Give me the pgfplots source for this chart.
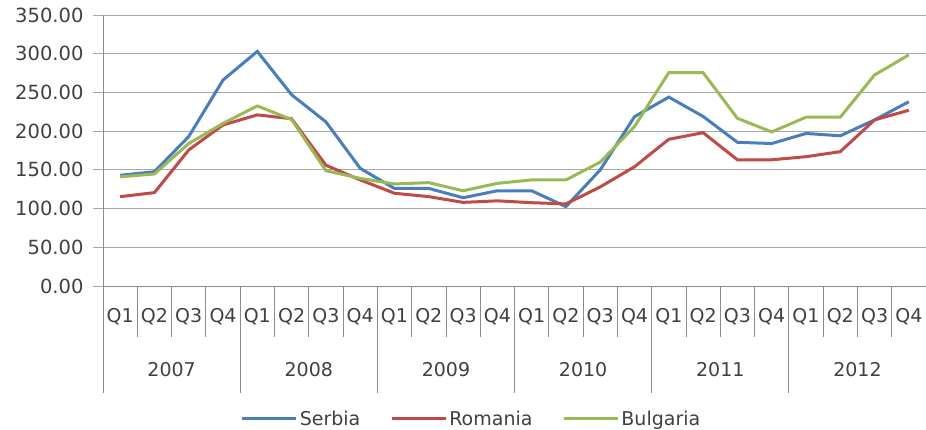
\documentclass[border=0pt]{standalone}
\usepackage{fontspec}
\setmainfont{DejaVu Sans}
\usepackage{pgfplots}
\pgfplotsset{compat=1.18}
\definecolor{cSer}{HTML}{4A7EBB}
\definecolor{cRom}{HTML}{BE4B48}
\definecolor{cBul}{HTML}{98B954}
\definecolor{gridgray}{HTML}{A8A8A8}
\definecolor{axgray}{HTML}{8C8C8C}
\definecolor{txt}{HTML}{404040}
\begin{document}
\begin{tikzpicture}
\path[use as bounding box] (-103pt,-143pt) rectangle (823pt,286pt);
% main axis with data
\begin{axis}[
  at={(0pt,0pt)}, anchor=south west,
  scale only axis, width=823pt, height=271pt,
  xmin=-0.5, xmax=23.5, ymin=0, ymax=350,
  axis x line*=bottom, axis y line*=left,
  axis line style={draw=axgray, line width=0.8pt, -},
  ymajorgrids, grid style={draw=gridgray, line width=0.9pt},
  ytick={0,50,100,150,200,250,300,350},
  yticklabels={0.00,50.00,100.00,150.00,200.00,250.00,300.00,350.00},
  xtick=\empty,
  tick align=outside, major tick length=10pt,
  ytick style={draw=gridgray, line width=0.9pt},
  yticklabel style={font=\fontsize{19.5}{22}\selectfont, text=txt, xshift=-6pt},
  legend style={at={(0.4478,-0.49)}, anchor=center, draw=none, fill=none,
    legend columns=3, font=\fontsize{19}{22}\selectfont, text=txt,
    /tikz/every even column/.append style={column sep=28pt},
    inner sep=0pt},
  legend image code/.code={\draw[#1] (0pt,0pt) -- (54pt,0pt);},
]
\addplot[cSer, line width=3pt] coordinates {
(0,143) (1,147.6) (2,193) (3,266) (4,303) (5,247) (6,212) (7,152)
(8,126) (9,126) (10,114) (11,123) (12,123) (13,102.5) (14,150) (15,218.7)
(16,244) (17,219) (18,185.6) (19,184) (20,197) (21,194) (22,214.5) (23,238)};
\addlegendentry{Serbia}
\addplot[cRom, line width=3pt] coordinates {
(0,115.4) (1,120.6) (2,175.7) (3,208) (4,221) (5,216) (6,156) (7,137)
(8,119.8) (9,115.4) (10,108) (11,110) (12,107.6) (13,106) (14,128) (15,154)
(16,189.5) (17,198) (18,163) (19,163) (20,167) (21,173.5) (22,214.5) (23,227)};
\addlegendentry{Romania}
\addplot[cBul, line width=3pt] coordinates {
(0,141) (1,144.7) (2,184) (3,210) (4,232.6) (5,215) (6,149) (7,139)
(8,131.8) (9,133.5) (10,123) (11,132.6) (12,137) (13,137) (14,160) (15,206)
(16,275.6) (17,275.6) (18,216.6) (19,199) (20,218) (21,218) (22,272.6) (23,298.5)};
\addlegendentry{Bulgaria}
\end{axis}
% quarter labels and separators
\begin{axis}[
  at={(0pt,0pt)}, anchor=south west,
  scale only axis, width=823pt, height=271pt,
  xmin=-0.5, xmax=23.5, ymin=0, ymax=350,
  axis x line*=bottom, axis y line=none,
  axis line style={draw=axgray, line width=0.8pt, -},
  xtick={-0.5,0.5,...,23.5},
  xticklabels={Q1,Q2,Q3,Q4,Q1,Q2,Q3,Q4,Q1,Q2,Q3,Q4,Q1,Q2,Q3,Q4,Q1,Q2,Q3,Q4,Q1,Q2,Q3,Q4,},
  tick align=outside, major tick length=51pt,
  xtick style={draw=axgray, line width=0.8pt},
  xticklabel style={font=\fontsize{19}{22}\selectfont, text=txt, anchor=center, xshift=17.15pt, yshift=20.3pt},
]
\end{axis}
% year labels and separators
\begin{axis}[
  at={(0pt,0pt)}, anchor=south west,
  scale only axis, width=823pt, height=271pt,
  xmin=-0.5, xmax=23.5, ymin=0, ymax=350,
  axis x line*=bottom, axis y line=none,
  axis line style={draw=axgray, line width=0.8pt, -},
  xtick={-0.5,3.5,7.5,11.5,15.5,19.5,23.5},
  xticklabels={2007,2008,2009,2010,2011,2012,},
  tick align=outside, major tick length=107pt,
  xtick style={draw=axgray, line width=0.8pt},
  xticklabel style={font=\fontsize{19}{22}\selectfont, text=txt, anchor=center, xshift=68.6pt, yshift=23pt},
]
\end{axis}
\end{tikzpicture}
\end{document}
